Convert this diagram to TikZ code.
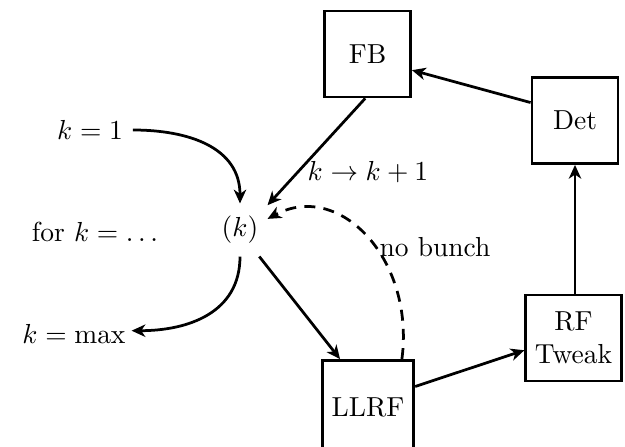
\documentclass[tikz,border=0pt]{standalone}
\usetikzlibrary{arrows.meta}
\begin{document}
\begin{tikzpicture}[x=0.3636pt,y=-0.3636pt,
  box/.style={draw,line width=1pt,minimum width=31.3pt,minimum height=31.3pt,align=center},
  conn/.style={line width=1pt,-{Stealth[length=5pt,width=4.5pt,inset=1.5pt]}},
  lbl/.style={inner sep=0pt}]
\useasboundingbox (0,0) rectangle (625,447);
\clip (0,0) rectangle (625,447);
\node[box] (fb) at (367.5,54) {FB};
\node[box] (det) at (575,120.5) {Det};
\node[box] (rf) at (573.5,338) {RF\\Tweak};
\node[box,minimum width=33.3pt,minimum height=34.2pt] (llrf) at (368,407.5) {LLRF};
\node[lbl,minimum width=19.6pt,minimum height=18.9pt] (k) at (240,230) {$(k)$};
\node[lbl] (k1) at (90,130) {$k=1$};
\node[lbl] (for) at (95,232) {for $k=\ldots$};
\node[lbl] (kmax) at (74,334) {$k=\max$};
\node[lbl] (inc) at (368,172) {$k\rightarrow k+1$};
\node[lbl] (nb) at (435,247) {no bunch};
\draw[conn] ([xshift=3.5pt]k1.east) to[out=0,in=90,looseness=1.1] (k.north);
\draw[conn] (k.south) to[out=-90,in=0,looseness=1.1] ([xshift=2pt,yshift=1.2pt]kmax.east);
\draw[conn] (fb.-93) -- (k.42);
\draw[conn] (k.-54) -- (llrf.120);
\draw[conn] (llrf.24) -- (rf.-166);
\draw[conn] (det.158) -- (fb.-20);
\draw[conn] (rf.north -| det.south) -- (det.south);
\draw[conn,dashed,dash pattern=on 4pt off 3pt] (llrf.55) .. controls (415,260) and (340,180) .. (k.22);
\end{tikzpicture}
\end{document}
